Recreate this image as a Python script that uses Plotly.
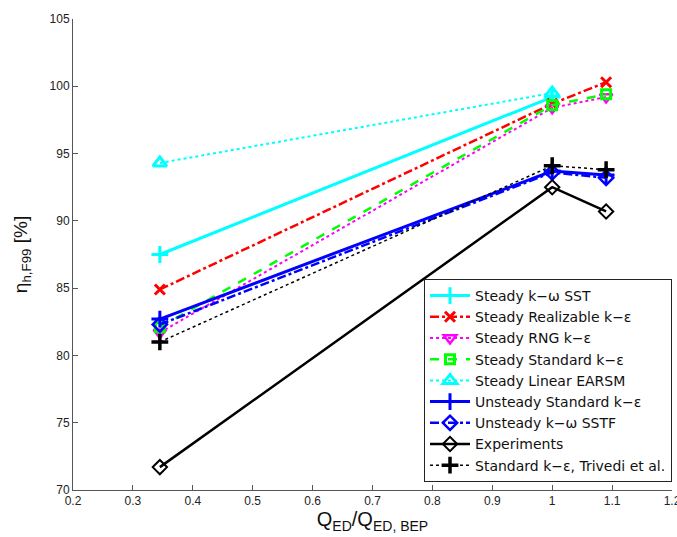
import plotly.graph_objects as go

x_three = [0.345, 1.0, 1.09]
x_two = [0.345, 1.0]

steady_sst = [87.5, 99.2]
steady_realizable = [84.9, 98.7, 100.3]
steady_rng = [81.7, 98.4, 99.2]
steady_standard = [82.1, 98.6, 99.4]
steady_earsm = [94.3, 99.5]
unsteady_standard = [82.7, 93.7, 93.4]
unsteady_sstf = [82.3, 93.6, 93.2]
experiments = [71.7, 92.5, 90.7]
trivedi = [81.0, 94.1, 93.8]

x_ticks = [0.2, 0.3, 0.4, 0.5, 0.6, 0.7, 0.8, 0.9, 1.0, 1.1, 1.2]
x_tick_labels = ["0.2", "0.3", "0.4", "0.5", "0.6", "0.7", "0.8", "0.9", "1", "1.1", "1.2"]
y_ticks = [70, 75, 80, 85, 90, 95, 100, 105]

series = [
    ("Steady k−ω SST", x_two, steady_sst, "#00FFFF", "solid", 3, "cross-thin-open", 12, 3),
    ("Steady Realizable k−ε", x_three, steady_realizable, "#FF0000", "dashdot", 2.5, "x-thin-open", 10, 3),
    ("Steady RNG k−ε", x_three, steady_rng, "#FF00FF", "dot", 2, "triangle-down-open", 11, 2.5),
    ("Steady Standard k−ε", x_three, steady_standard, "#00FF00", "dash", 2.5, "square-open", 9, 3),
    ("Steady Linear EARSM", x_two, steady_earsm, "#00FFFF", "dot", 2, "triangle-up-open", 12, 3),
    ("Unsteady Standard k−ε", x_three, unsteady_standard, "#0000FF", "solid", 3, "cross-thin-open", 12, 3),
    ("Unsteady k−ω SSTF", x_three, unsteady_sstf, "#0000FF", "dashdot", 2.5, "diamond-open", 11, 2.5),
    ("Experiments", x_three, experiments, "#000000", "solid", 2.5, "diamond-open", 11, 2),
    ("Standard k−ε, Trivedi et al.", x_three, trivedi, "#000000", "dot", 1.5, "cross-thin-open", 12, 3.5),
]

fig = go.Figure()
for name, xs, ys, color, dash, lw, sym, ms, mlw in series:
    fig.add_trace(go.Scatter(
        x=xs, y=ys, name=name, mode="lines+markers",
        line=dict(color=color, dash=dash, width=lw),
        marker=dict(symbol=sym, size=ms, color=color, line=dict(color=color, width=mlw)),
    ))

axis_common = dict(
    showgrid=False, zeroline=False, showline=True, linecolor="#555555", linewidth=1,
    ticks="inside", ticklen=5, tickcolor="#555555", mirror=False, automargin=False,
    ticklabeloverflow="allow",
    tickfont=dict(size=12, color="#222222"),
)

fig.update_layout(
    width=677, height=537,
    margin=dict(l=73, r=5, t=19, b=47),
    paper_bgcolor="white", plot_bgcolor="white",
    font=dict(family="Liberation Sans, Arial, sans-serif", color="#111111"),
    xaxis=dict(range=[0.2, 1.2], tickvals=x_ticks, ticktext=x_tick_labels,
               title=dict(text="Q<sub>ED</sub>/Q<sub>ED, BEP</sub>", font=dict(size=20), standoff=2),
               **axis_common),
    yaxis=dict(range=[70, 105], tickvals=y_ticks,
               title=dict(text="η<sub>h,F99</sub> [%]", font=dict(size=19), standoff=16),
               **axis_common),
    legend=dict(x=1.0, xanchor="right", y=0.017, yanchor="bottom",
                bordercolor="#222222", borderwidth=1, bgcolor="white",
                font=dict(size=14, color="#111111", family="DejaVu Sans, sans-serif"),
                tracegroupgap=0, itemwidth=40),
    showlegend=True,
)

fig.write_html("out.html", config={"displayModeBar": False},
               post_script="document.body.style.margin='0';document.body.style.overflow='hidden';")
